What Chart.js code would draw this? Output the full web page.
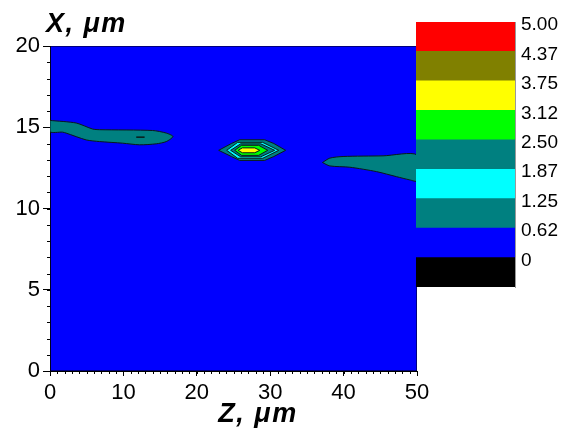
<!DOCTYPE html>
<html>
<head>
<meta charset="utf-8">
<script src="https://cdn.jsdelivr.net/npm/chart.js@4.4.1/dist/chart.umd.min.js"></script>
<style>
  body { margin: 0; background: #fff; }
  #wrap { position: relative; width: 561px; height: 434px; }
  #wrap canvas { position: absolute; left: 0; top: 0; }
</style>
</head>
<body>
<div id="wrap">
  <canvas id="map" width="561" height="434"></canvas>
  <canvas id="scale" width="561" height="434"></canvas>
</div>
<script>
// contour map of the field, Z along the bottom, X up the side

const zTitle = "Z, \u03bcm";
const xTitle = "X, \u03bcm";
const zRange = [0, 50];
const xRange = [0, 20];

// contour levels of the colour scale (edges of the bands, bottom to top)
const bandEdges = [-0.625, 0, 0.625, 1.25, 1.875, 2.5, 3.125, 3.75, 4.375, 5.0];
const levelLabels = ["0", "0.62", "1.25", "1.87", "2.50", "3.12", "3.75", "4.37", "5.00"];
const bandColors = ["#000000", "#0000ff", "#008080", "#00ffff", "#008080", "#00ff00", "#ffff00", "#808000", "#ff0000"];

// contour outlines as [z, x] pairs
const fieldArea = [[0, 0], [50, 0], [50, 20], [0, 20], [0, 0]];
const leftStreak = [
  [0, 15.42], [3.57, 15.26], [5.8, 14.89], [6.75, 14.85], [13.98, 14.8], [15.85, 14.64], [16.75, 14.43],
  [15.85, 14.12], [14.48, 13.98], [12.2, 13.92], [9.89, 14.02], [6.75, 14.12], [4.94, 14.22],
  [2.2, 14.64], [1.7, 14.7], [0, 14.72], [0, 15.42]
];
const leftStreakCore = [[11.75, 14.39], [12.89, 14.39]];
const rightStreak = [
  [37.12, 12.83], [38.12, 13.1], [39.93, 13.2], [45.38, 13.24], [50, 13.3], [50, 11.7],
  [49.02, 11.76], [47.2, 11.96], [44.48, 12.27], [40.85, 12.54], [38.12, 12.62], [37.12, 12.83]
];
const spotLevel1 = [
  [22.98, 13.58], [24.71, 14.0], [25.84, 14.23], [29.25, 14.23], [30.5, 14.0], [32.1, 13.58],
  [30.5, 13.2], [29.25, 12.96], [25.84, 12.96], [24.71, 13.2], [22.98, 13.58]
];
const spotLevel2 = [[24.07, 13.58], [25.57, 14.07], [28.98, 14.07], [31.16, 13.58], [28.98, 13.09], [25.57, 13.09], [24.07, 13.58]];
const spotLevel3 = [[24.61, 13.58], [25.98, 13.98], [28.71, 13.98], [30.61, 13.58], [28.71, 13.18], [25.98, 13.18], [24.61, 13.58]];
const spotLevel4 = [[25.16, 13.58], [26.11, 13.89], [28.43, 13.89], [29.66, 13.58], [28.43, 13.27], [26.11, 13.27], [25.16, 13.58]];
const spotLevel5 = [[25.64, 13.58], [26.2, 13.73], [27.9, 13.73], [28.57, 13.58], [27.9, 13.43], [26.2, 13.43], [25.64, 13.58]];

const FONT = '"Liberation Sans", Arial, sans-serif';

function toPoints(pairs) {
  return pairs.map(([z, x]) => ({ x: z, y: x }));
}

function region(pairs, color, opts = {}) {
  return Object.assign({
    data: toPoints(pairs),
    showLine: true,
    fill: "shape",
    backgroundColor: color,
    borderColor: "#0a1a1a",
    borderWidth: 1,
    pointRadius: 0,
    tension: 0
  }, opts);
}

// bottom to top
const layers = [
  region(fieldArea, bandColors[1], { borderColor: "#000" }),
  region(leftStreak, bandColors[2], { tension: 0.25 }),
  region(rightStreak, bandColors[2], { tension: 0.25 }),
  region(spotLevel1, bandColors[2]),
  region(spotLevel2, bandColors[3]),
  region(spotLevel3, bandColors[4]),
  region(spotLevel4, bandColors[5]),
  region(spotLevel5, bandColors[6]),
  { data: toPoints(leftStreakCore), showLine: true, fill: false, borderColor: "#0a1a1a", borderWidth: 1.5, pointRadius: 0 }
];
layers.forEach((ds, i) => { ds.order = layers.length - i; });

const minorTicks = {
  id: "minorTicks",
  afterDraw(chart) {
    const { ctx, chartArea, scales } = chart;
    ctx.save();
    ctx.strokeStyle = "#000";
    ctx.lineWidth = 1;
    ctx.beginPath();
    for (let v = zRange[0]; v <= zRange[1]; v += 1) {
      const px = Math.round(scales.x.getPixelForValue(v)) + 0.5;
      ctx.moveTo(px, chartArea.bottom);
      ctx.lineTo(px, chartArea.bottom + 3);
    }
    for (let v = xRange[0]; v <= xRange[1]; v += 1) {
      const py = Math.round(scales.y.getPixelForValue(v)) + 0.5;
      ctx.moveTo(chartArea.left, py);
      ctx.lineTo(chartArea.left - 3, py);
    }
    ctx.stroke();

    // axis captions
    ctx.fillStyle = "#000";
    ctx.font = "italic bold 27px " + FONT;
    ctx.letterSpacing = "1.5px";
    ctx.textBaseline = "alphabetic";
    ctx.textAlign = "left";
    ctx.fillText(xTitle, chartArea.left - 4, 32);
    ctx.textAlign = "center";
    ctx.fillText(zTitle, 258, 422);
    ctx.restore();
  }
};

new Chart(document.getElementById("map"), {
  type: "scatter",
  data: { datasets: layers },
  options: {
    responsive: false,
    animation: false,
    devicePixelRatio: 1,
    layout: { padding: { top: 46, right: 144, left: 0, bottom: 0 } },
    plugins: {
      legend: { display: false },
      tooltip: { enabled: false },
      filler: { drawTime: "beforeDatasetDraw" }
    },
    scales: {
      x: {
        type: "linear",
        min: zRange[0],
        max: zRange[1],
        ticks: { stepSize: 10, color: "#000", font: { family: FONT, size: 22 }, padding: 4, maxRotation: 0 },
        grid: { drawOnChartArea: false, color: "#000", tickLength: 5 },
        border: { color: "#000" },
        afterFit: s => { s.height = 63; }
      },
      y: {
        type: "linear",
        min: xRange[0],
        max: xRange[1],
        ticks: { stepSize: 5, color: "#000", font: { family: FONT, size: 22 }, padding: 3 },
        grid: { drawOnChartArea: false, color: "#000", tickLength: 7 },
        border: { color: "#000" },
        afterFit: s => { s.width = 50; }
      }
    }
  },
  plugins: [minorTicks]
});

// colour scale
const bands = bandColors.map((color, i) => ({
  data: [[bandEdges[i], bandEdges[i + 1]]],
  backgroundColor: color,
  borderWidth: 0,
  grouped: false,
  barPercentage: 1,
  categoryPercentage: 1
}));

new Chart(document.getElementById("scale"), {
  type: "bar",
  data: { labels: [""], datasets: bands },
  options: {
    responsive: false,
    animation: false,
    devicePixelRatio: 1,
    layout: { padding: { left: 416, top: 22, bottom: 147, right: 0 } },
    plugins: { legend: { display: false }, tooltip: { enabled: false } },
    scales: {
      x: { display: false },
      y: {
        position: "right",
        min: bandEdges[0],
        max: bandEdges[bandEdges.length - 1],
        afterBuildTicks: s => { s.ticks = bandEdges.slice(1).map(v => ({ value: v })); },
        ticks: {
          color: "#000",
          font: { family: FONT, size: 19 },
          padding: 6,
          labelOffset: 3,
          callback: (v, i) => levelLabels[i]
        },
        grid: { display: false, drawTicks: false },
        border: { display: true, color: "#999" },
        afterFit: s => { s.width = 46; }
      }
    }
  }
});
</script>
</body>
</html>
